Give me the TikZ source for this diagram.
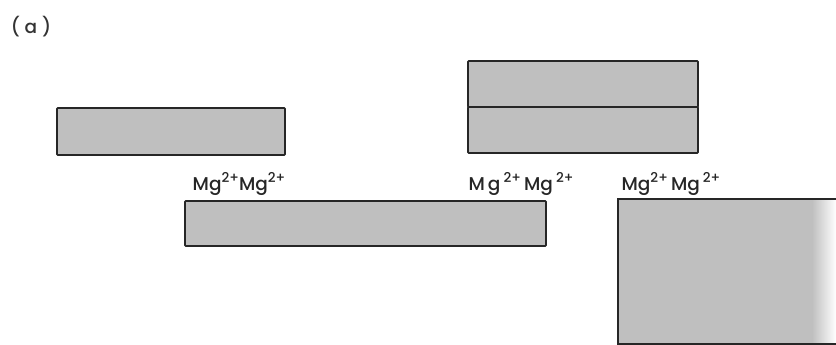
\documentclass[tikz,border=0pt]{standalone}
\usepackage{fontspec}
\setmainfont{Poppins}[UprightFont={* Medium},BoldFont={* SemiBold}]
\newcommand{\ionsup}{\raisebox{0.42em}{\fontsize{13.5}{13.5}\selectfont 2+}}
\begin{document}
\begin{tikzpicture}[x=1pt,y=-1pt,
  slab/.style={draw=black!85,line width=1.6pt,fill=black!25,inner sep=0pt,rounded corners=0.8pt},
  ion/.style={font=\fontsize{18.5}{18.5}\selectfont,text=black!85,inner sep=0pt,anchor=base}]
\useasboundingbox (0,0) rectangle (836,345);
\node[font=\fontsize{18.5}{18.5}\selectfont,text=black!80,inner sep=0pt] (lab) at (31,27) {( a )};
\node[slab,minimum width=228pt,minimum height=47pt] (s1) at (171,131.5) {};
\node[slab,minimum width=230pt,minimum height=46pt] (s2) at (583,84) {};
\node[slab,minimum width=230pt,minimum height=46pt] (s3) at (583,130) {};
\node[slab,minimum width=361pt,minimum height=45pt] (s4) at (365.5,223.5) {};
\node[ion] (m1) at (239,190) {Mg\ionsup Mg\ionsup};
\node[ion] (m2) at (521,190) {M\,g\,\ionsup\,Mg\,\ionsup};
\node[ion] (m3) at (671,190) {Mg\ionsup\,Mg\,\ionsup};
\coordinate (b1) at (618,199);
\coordinate (b2) at (836,199);
\coordinate (b3) at (836,344);
\coordinate (b4) at (618,344);
\fill[black!25] (618,199) rectangle (812,344);
\shade[left color=black!25,right color=white] (812,199) rectangle (836,344);
\draw[draw=black!85,line width=1.6pt] (b2) -- (b1) -- (b4) -- (b3);
\end{tikzpicture}
\end{document}
